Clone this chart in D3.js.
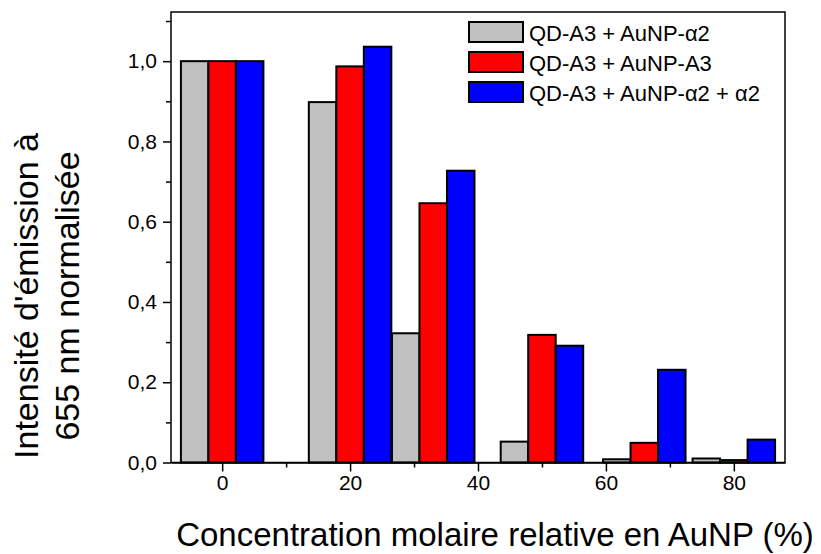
<!DOCTYPE html>
<html><head><meta charset="utf-8">
<script src="https://cdn.jsdelivr.net/npm/d3@7"></script>
<style>body{margin:0;background:#fff}svg{display:block;font-family:"Liberation Sans",Arial,sans-serif}</style>
</head><body>
<svg id="c" width="821" height="554"></svg>
<script>
const concentrations = [0, 20, 33, 50, 66, 80];
const seriesNames = ["QD-A3 + AuNP-\u03b12", "QD-A3 + AuNP-A3", "QD-A3 + AuNP-\u03b12 + \u03b12"];
const grayValues = [1.0, 0.898, 0.322, 0.052, 0.008, 0.010];
const redValues  = [1.0, 0.987, 0.646, 0.318, 0.049, 0.006];
const blueValues = [1.0, 1.036, 0.727, 0.291, 0.231, 0.057];
const colors = ["#c0c0c0", "#ff0000", "#0000ff"];
const xMajorTicks = [0, 20, 40, 60, 80];
const xMinorTicks = [10, 30, 50, 70];
const yMajorTicks = [0, 0.2, 0.4, 0.6, 0.8, 1.0];
const yMinorTicks = [0.1, 0.3, 0.5, 0.7, 0.9, 1.1];
const xTitle = "Concentration molaire relative en AuNP (%)";
const yTitleLines = ["Intensit\u00e9 d'\u00e9mission \u00e0", "655 nm normalis\u00e9e"];

const series = [grayValues, redValues, blueValues];
const L = 171, R = 785, T = 12, B = 462.5;
const svg = d3.select("#c");
const x = d3.scaleLinear().domain([-8, 88]).range([L, R]);
const y = d3.scaleLinear().domain([0, 1.1225]).range([B, T]);
const barW = 4.3;

// bars
series.forEach((vals, si) => {
  svg.append("g").selectAll("rect").data(concentrations).join("rect")
    .attr("x", (c) => x(c + (si - 1) * barW - barW / 2))
    .attr("width", x(barW) - x(0))
    .attr("y", (c, i) => y(vals[i]))
    .attr("height", (c, i) => y(0) - y(vals[i]))
    .attr("fill", colors[si])
    .attr("stroke", "#000").attr("stroke-width", 2);
});

// frame
svg.append("rect").attr("x", L).attr("y", T).attr("width", R - L).attr("height", B - T)
  .attr("fill", "none").attr("stroke", "#000").attr("stroke-width", 1.5);

// x axis
const fmtY = (d) => d3.format(".1f")(d).replace(".", ",");
const xa = svg.append("g").attr("transform", `translate(0,${B})`)
  .call(d3.axisBottom(x).tickValues(xMajorTicks).tickSize(9).tickSizeOuter(0).tickPadding(4));
xa.select(".domain").attr("stroke-width", 1.5);
xa.selectAll(".tick line").attr("stroke-width", 1.5);
xa.selectAll("text").attr("font-size", 21).attr("font-family", "Liberation Sans, Arial").attr("fill", "#000");
const xm = svg.append("g").attr("transform", `translate(0,${B})`)
  .call(d3.axisBottom(x).tickValues(xMinorTicks).tickSize(5).tickSizeOuter(0).tickFormat(""));
xm.select(".domain").remove();
xm.selectAll(".tick line").attr("stroke-width", 1.5);

// y axis
const ya = svg.append("g").attr("transform", `translate(${L},0)`)
  .call(d3.axisLeft(y).tickValues(yMajorTicks).tickSize(8).tickSizeOuter(0).tickPadding(6).tickFormat(fmtY));
ya.select(".domain").remove();
ya.selectAll(".tick line").attr("stroke-width", 1.5);
ya.selectAll("text").attr("font-size", 21).attr("font-family", "Liberation Sans, Arial").attr("fill", "#000");
const ym = svg.append("g").attr("transform", `translate(${L},0)`)
  .call(d3.axisLeft(y).tickValues(yMinorTicks).tickSize(5).tickSizeOuter(0).tickFormat(""));
ym.select(".domain").remove();
ym.selectAll(".tick line").attr("stroke-width", 1.5);

// titles
svg.append("text").attr("x", 495).attr("y", 546).attr("text-anchor", "middle")
  .attr("font-size", 33).attr("fill", "#000").text(xTitle);
const yt = svg.append("text").attr("transform", "translate(0,296) rotate(-90)")
  .attr("text-anchor", "middle").attr("font-size", 34).attr("fill", "#000");
yTitleLines.forEach((t, i) => {
  yt.append("tspan").attr("x", 0).attr("y", i === 0 ? 38 : 79).text(t);
});

// legend
const lg = svg.append("g");
seriesNames.forEach((name, i) => {
  lg.append("rect").attr("x", 469).attr("y", 22 + i * 30).attr("width", 54).attr("height", 20)
    .attr("fill", colors[i]).attr("stroke", "#000").attr("stroke-width", 2);
  lg.append("text").attr("x", 529).attr("y", 41 + i * 30).attr("font-size", 22).attr("fill", "#000").text(name);
});
</script>
</body></html>
